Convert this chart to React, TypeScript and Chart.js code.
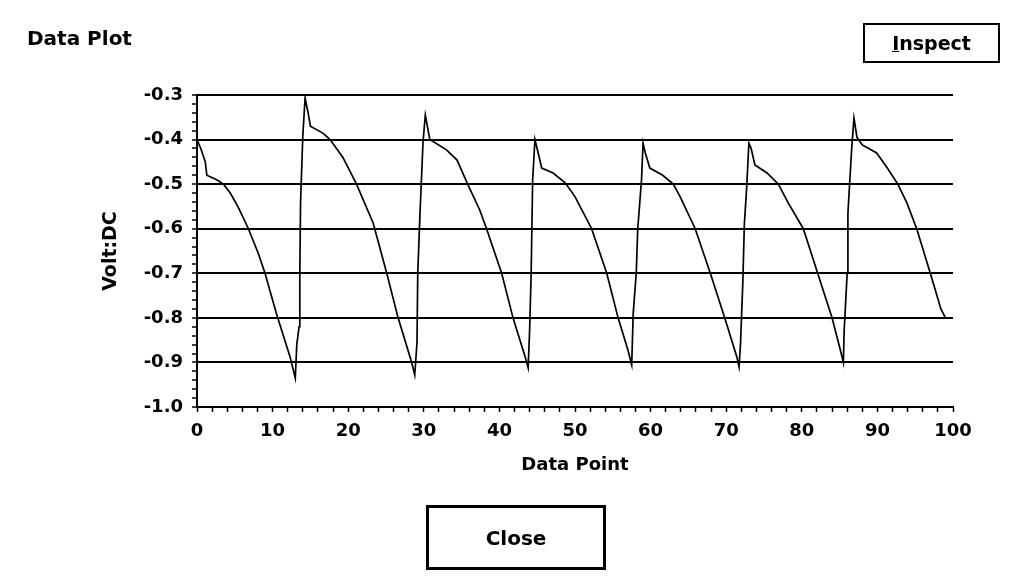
import React, { useEffect, useRef } from "react";
import { Chart, registerables } from "chart.js";

Chart.register(...registerables);

// Data (Data Point vs Volt:DC)
const pointX = [
  0, 0.5, 1.1, 1.3, 2.6, 3.5, 4.4, 5.5, 6.8, 8.1, 9, 10.5, 12.3, 13,
  13.2, 13.5, 13.6, 13.7, 14, 14.3, 14.7, 15, 16.7, 17.6, 19.3, 21.1, 23.3, 25.1, 26.6, 28.4, 28.8,
  29.1, 29.2, 29.5, 29.9, 30.2, 30.8, 33, 34.4, 35.8, 37.4, 38.3, 40.3, 41.8, 43.4, 43.8,
  44, 44.2, 44.4, 44.7, 45.1, 45.6, 47.1, 48.7, 50, 52.2, 54.2, 55.7, 57, 57.5,
  57.7, 58.1, 58.3, 58.8, 59, 59.3, 59.9, 61.6, 63, 63.9, 65.9, 67.9, 69.8, 71.4, 71.7,
  71.9, 72.2, 72.4, 72.7, 73, 73.3, 73.8, 75.4, 76.9, 78.2, 80.2, 82.1, 84, 85.1, 85.5,
  85.6, 86, 86.1, 86.6, 86.9, 87.3, 88, 89.9, 91.2, 92.7, 93.9, 95.2, 97, 98.4, 99,
];

const voltDC = [
  -0.4, -0.42, -0.45, -0.48, -0.49, -0.5, -0.52, -0.553, -0.6, -0.655, -0.7, -0.79, -0.887, -0.935,
  -0.86, -0.82, -0.7, -0.54, -0.39, -0.307, -0.34, -0.37, -0.386, -0.4, -0.44, -0.5, -0.587, -0.7, -0.8, -0.9, -0.928,
  -0.856, -0.7, -0.565, -0.405, -0.345, -0.4, -0.423, -0.446, -0.5, -0.558, -0.6, -0.7, -0.8, -0.887, -0.912,
  -0.827, -0.7, -0.49, -0.4, -0.428, -0.464, -0.475, -0.497, -0.528, -0.6, -0.7, -0.8, -0.872, -0.905,
  -0.79, -0.7, -0.6, -0.49, -0.408, -0.43, -0.464, -0.48, -0.5, -0.528, -0.6, -0.7, -0.8, -0.887, -0.91,
  -0.856, -0.72, -0.59, -0.51, -0.408, -0.42, -0.457, -0.475, -0.5, -0.542, -0.6, -0.7, -0.8, -0.872, -0.9,
  -0.83, -0.7, -0.565, -0.42, -0.352, -0.395, -0.412, -0.43, -0.461, -0.5, -0.542, -0.6, -0.7, -0.78, -0.8,
];

const xTickValues = [0, 10, 20, 30, 40, 50, 60, 70, 80, 90, 100];
const xTickLabels = ["0", "10", "20", "30", "40", "50", "60", "70", "80", "90", "100"];
const xMinorStep = 2;

const yTickValues = [-1.0, -0.9, -0.8, -0.7, -0.6, -0.5, -0.4, -0.3];
const yTickLabels = ["-1.0", "-0.9", "-0.8", "-0.7", "-0.6", "-0.5", "-0.4", "-0.3"];
const yMinorStep = 0.02;

const FONT = "'DejaVu Sans', sans-serif";

function majorIndex(values: number[], v: number, tol: number) {
  for (let i = 0; i < values.length; i++) {
    if (Math.abs(values[i] - v) < tol) return i;
  }
  return -1;
}

export default function App() {
  const canvasRef = useRef<HTMLCanvasElement | null>(null);

  useEffect(() => {
    const canvas = canvasRef.current;
    if (!canvas) return;
    const chart = new Chart(canvas, {
      type: "line",
      data: {
        datasets: [
          {
            data: pointX.map((x, i) => ({ x, y: voltDC[i] })),
            borderColor: "#000",
            borderWidth: 1.7,
            pointRadius: 0,
            tension: 0,
            fill: false,
          },
        ],
      },
      options: {
        animation: false,
        responsive: false,
        devicePixelRatio: 1,
        layout: { padding: { left: 100, top: 95, right: 57, bottom: 110 } },
        plugins: {
          legend: { display: false },
          tooltip: { enabled: false },
        },
        scales: {
          x: {
            type: "linear",
            position: "bottom",
            min: xTickValues[0],
            max: xTickValues[xTickValues.length - 1],
            afterFit: (s: any) => {
              s.height = 69;
            },
            afterBuildTicks: (s: any) => {
              const t: any[] = [];
              const lo = xTickValues[0];
              const hi = xTickValues[xTickValues.length - 1];
              for (let v = lo; v <= hi + 1e-9; v += xMinorStep) t.push({ value: v });
              s.ticks = t;
            },
            grid: {
              drawOnChartArea: false,
              color: "rgba(0,0,0,0)",
              tickColor: "#000",
              tickLength: 5,
              tickWidth: 1.5,
            },
            border: { color: "#000", width: 2 },
            ticks: {
              autoSkip: false,
              maxRotation: 0,
              padding: 9,
              color: "#000",
              font: { family: FONT, size: 18, weight: "bold" },
              callback: (v: any) => {
                const i = majorIndex(xTickValues, Number(v), 1e-6);
                return i >= 0 ? xTickLabels[i] : "";
              },
            },
            title: {
              display: true,
              text: "Data Point",
              color: "#000",
              padding: 0,
              font: { family: FONT, size: 18, weight: "bold" },
            },
          },
          y: {
            type: "linear",
            position: "left",
            min: yTickValues[0],
            max: yTickValues[yTickValues.length - 1],
            afterFit: (s: any) => {
              s.width = 97;
            },
            afterBuildTicks: (s: any) => {
              const t: any[] = [];
              const lo = yTickValues[0];
              const hi = yTickValues[yTickValues.length - 1];
              const n = Math.round((hi - lo) / yMinorStep);
              for (let k = 0; k <= n; k++) t.push({ value: lo + k * yMinorStep });
              s.ticks = t;
            },
            grid: {
              color: (ctx: any) =>
                ctx.tick && majorIndex(yTickValues, ctx.tick.value, 1e-6) >= 0 ? "#000" : "rgba(0,0,0,0)",
              lineWidth: 2,
              tickColor: "#000",
              tickLength: 5,
              tickWidth: 1.5,
            },
            border: { color: "#000", width: 2 },
            ticks: {
              autoSkip: false,
              padding: 9,
              color: "#000",
              font: { family: FONT, size: 18, weight: "bold" },
              callback: (v: any) => {
                const i = majorIndex(yTickValues, Number(v), 1e-6);
                return i >= 0 ? yTickLabels[i] : "";
              },
            },
            title: {
              display: true,
              text: "Volt:DC",
              color: "#000",
              padding: 0,
              font: { family: FONT, size: 19, weight: "bold" },
            },
          },
        },
      },
    } as any);
    return () => chart.destroy();
  }, []);

  return (
    <div
      style={{
        position: "fixed",
        left: 0,
        top: 0,
        width: 1010,
        height: 586,
        background: "#fff",
        fontFamily: FONT,
        color: "#000",
        overflow: "hidden",
      }}
    >
      <canvas
        ref={canvasRef}
        width={1010}
        height={586}
        style={{ position: "absolute", left: 0, top: 0, width: 1010, height: 586 }}
      />
      <div
        style={{
          position: "absolute",
          left: 27,
          top: 26,
          fontSize: 20,
          fontWeight: "bold",
          whiteSpace: "nowrap",
        }}
      >
        Data Plot
      </div>
      <div
        style={{
          position: "absolute",
          left: 863,
          top: 23,
          width: 137,
          height: 40,
          boxSizing: "border-box",
          border: "2px solid #000",
          display: "flex",
          alignItems: "center",
          justifyContent: "center",
          fontSize: 19,
          fontWeight: "bold",
        }}
      >
        <span>
          <span style={{ textDecoration: "underline" }}>I</span>nspect
        </span>
      </div>
      <div
        style={{
          position: "absolute",
          left: 426,
          top: 505,
          width: 180,
          height: 65,
          boxSizing: "border-box",
          border: "3px solid #000",
          display: "flex",
          alignItems: "center",
          justifyContent: "center",
          fontSize: 20,
          fontWeight: "bold",
        }}
      >
        Close
      </div>
    </div>
  );
}
